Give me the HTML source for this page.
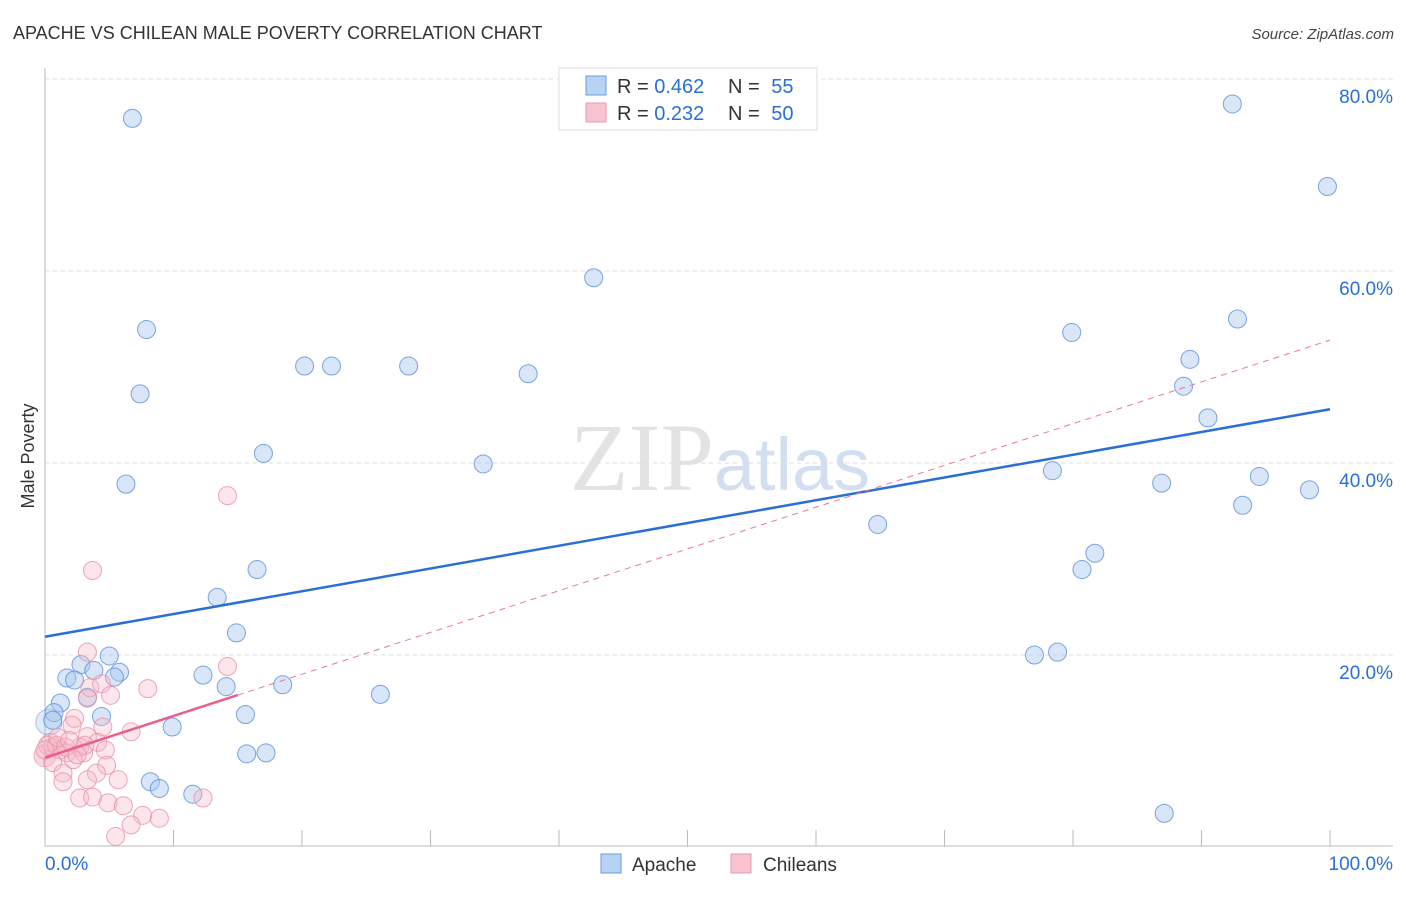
<!DOCTYPE html>
<html><head><meta charset="utf-8"><style>
body{margin:0;background:#fff;font-family:"Liberation Sans",sans-serif}
</style></head><body>
<svg id="chart" width="1406" height="892" xmlns="http://www.w3.org/2000/svg" style="font-family:'Liberation Sans',sans-serif">
<text x="13" y="39" font-size="18" fill="#333">APACHE VS CHILEAN MALE POVERTY CORRELATION CHART</text>
<text x="1394" y="39" font-size="15" fill="#444" font-style="italic" text-anchor="end">Source: ZipAtlas.com</text>
<text transform="translate(34,456) rotate(-90)" font-size="18" fill="#333" text-anchor="middle">Male Poverty</text>
<text x="720" y="490" font-size="96" text-anchor="middle" fill="#ddd" font-family="Liberation Serif" opacity="0.8">ZIP<tspan fill="#c8d8ee" font-family="Liberation Sans" font-size="74">atlas</tspan></text>
<g id="grid"></g><g id="axes"></g><g id="marks"></g>
<g>
<rect x="559" y="68" width="258" height="62" fill="#fff" stroke="#ddd"/>
<rect x="586" y="76" width="20" height="19" fill="#b8d2f4" stroke="#6b9ad8"/>
<rect x="586" y="103" width="20" height="19" fill="#f8c4d2" stroke="#e896ae"/>
<text x="617" y="93" font-size="20" fill="#333">R = <tspan fill="#2a6fd6">0.462</tspan></text>
<text x="728" y="93" font-size="20" fill="#333">N = <tspan fill="#2a6fd6" dx="6">55</tspan></text>
<text x="617" y="120" font-size="20" fill="#333">R = <tspan fill="#2a6fd6">0.232</tspan></text>
<text x="728" y="120" font-size="20" fill="#333">N = <tspan fill="#2a6fd6" dx="6">50</tspan></text>
</g>
<g>
<rect x="601" y="854" width="20" height="19" fill="#b8d2f4" stroke="#6b9ad8"/>
<text x="632" y="871" font-size="19" fill="#333">Apache</text>
<rect x="731" y="854" width="20" height="19" fill="#f8c4d2" stroke="#e896ae"/>
<text x="763" y="871" font-size="19" fill="#333">Chileans</text>
</g>
</svg>
<script>
const yTicks=[20,40,60,80];
const yTickLabels=["20.0%","40.0%","60.0%","80.0%"];
const xTickLabels=["0.0%","100.0%"];
const apacheX=[6.8,92.4,99.8,42.7,7.9,79.9,92.8,20.2,22.3,28.3,89.1,37.6,88.6,7.4,90.5,17.0,34.1,6.3,78.4,86.9,94.5,98.4,93.2,64.8,81.7,80.7,16.5,13.4,14.9,77.0,78.8,5.0,2.8,1.7,2.3,3.8,5.8,5.4,12.3,1.2,3.3,14.1,18.5,26.1,0.7,4.4,15.6,9.9,0.6,15.7,17.2,8.2,8.9,11.5,87.1];
const apacheY=[75.9,77.4,68.8,59.3,53.9,53.6,55.0,50.1,50.1,50.1,50.8,49.3,48.0,47.2,44.7,41.0,39.9,37.8,39.2,37.9,38.6,37.2,35.6,33.6,30.6,28.9,28.9,26.0,22.3,20.0,20.3,19.9,19.0,17.6,17.4,18.4,18.2,17.7,17.9,15.0,15.6,16.7,16.9,15.9,14.0,13.6,13.8,12.5,13.2,9.7,9.8,6.8,6.1,5.5,3.5];
const chileX=[3.7,3.3,14.2,8.0,3.5,4.4,5.1,3.3,2.3,4.5,2.1,6.7,3.3,4.1,2.7,4.7,0.6,1.2,0.4,1.7,3.0,2.2,0.6,4.8,1.4,4.0,3.3,5.7,1.4,2.7,3.7,4.9,6.1,7.6,8.9,6.7,5.5,12.3,14.2,0.2,0.9,1.6,0,1.0,1.9,3.1,2.5];
const chileY=[28.8,20.3,18.8,16.5,16.6,17.0,15.8,15.5,13.4,12.5,12.7,12.0,11.5,10.9,10.4,10.1,10.4,10.1,10.9,9.8,9.8,9.1,8.8,8.5,7.7,7.7,7.0,7.0,6.8,5.1,5.2,4.6,4.3,3.3,3.0,2.3,1.1,5.1,36.6,10.6,10.6,10.4,10.1,11.4,11.1,10.6,9.6];
const apacheFit=[21.9,45.6];
const chileFit=[9.3,52.8];
const NS="http://www.w3.org/2000/svg";
const X=v=>45+v*12.85, Y=v=>847-v*9.6;
function mk(p,t,a){const e=document.createElementNS(NS,t);for(const k in a)e.setAttribute(k,a[k]);p.appendChild(e);return e;}
const grid=document.getElementById('grid'),axes=document.getElementById('axes'),marks=document.getElementById('marks');
yTicks.forEach((t,i)=>{
 const l=mk(grid,'line',{x1:45,x2:1393,y1:Y(t),y2:Y(t),stroke:'#ddd','stroke-dasharray':'4,4'});
 
 
 const tx=mk(grid,'text',{x:1393,y:Y(t)+24,'font-size':19,fill:'#2a6fd6','text-anchor':'end'});
 tx.textContent=yTickLabels[i];
 
 
});
let a=mk(axes,'line',{x1:45,x2:45,y1:68,y2:846,stroke:'#bbb'});


a=mk(axes,'line',{x1:45,x2:1393,y1:846,y2:846,stroke:'#bbb'});


for(let i=1;i<=10;i++){const t=mk(axes,'line',{x1:X(i*10),x2:X(i*10),y1:830,y2:846,stroke:'#bbb'});
 
 }
[[0,'start',45],[100,'end',1393]].forEach((d,i)=>{const t=mk(axes,'text',{x:d[2],y:870,'font-size':19,fill:'#2a6fd6','text-anchor':d[1]});t.textContent=xTickLabels[i];
 
 });
let big=mk(marks,'circle',{cx:X(0.3),cy:Y(13),r:13,fill:'#a8c8f0','fill-opacity':0.35,stroke:'#5b8fd8','stroke-opacity':0.5});


apacheX.forEach((x,i)=>{const c=mk(marks,'circle',{cx:X(x),cy:Y(apacheY[i]),r:9,fill:'#a8c8f0','fill-opacity':0.45,stroke:'#5b8fd8','stroke-opacity':0.8});
 
 });
big=mk(marks,'circle',{cx:X(0),cy:Y(9.5),r:11,fill:'#f090a8','fill-opacity':0.35,stroke:'#e87898','stroke-opacity':0.5});


chileX.forEach((x,i)=>{const c=mk(marks,'circle',{cx:X(x),cy:Y(chileY[i]),r:9,fill:'#f5b8c8','fill-opacity':0.35,stroke:'#e890a8','stroke-opacity':0.8});
 
 });
let ln=mk(marks,'line',{x1:X(0),y1:Y(apacheFit[0]),x2:X(100),y2:Y(apacheFit[1]),stroke:'#2a6fd6','stroke-width':2.5});


const cAt=v=>chileFit[0]+(chileFit[1]-chileFit[0])*v/100;
ln=mk(marks,'line',{x1:X(15),y1:Y(cAt(15)),x2:X(100),y2:Y(chileFit[1]),stroke:'#e87898','stroke-width':1,'stroke-dasharray':'6,5'});


ln=mk(marks,'line',{x1:X(0),y1:Y(chileFit[0]),x2:X(15),y2:Y(cAt(15)),stroke:'#e8608a','stroke-width':2.5});


</script>
</body></html>
